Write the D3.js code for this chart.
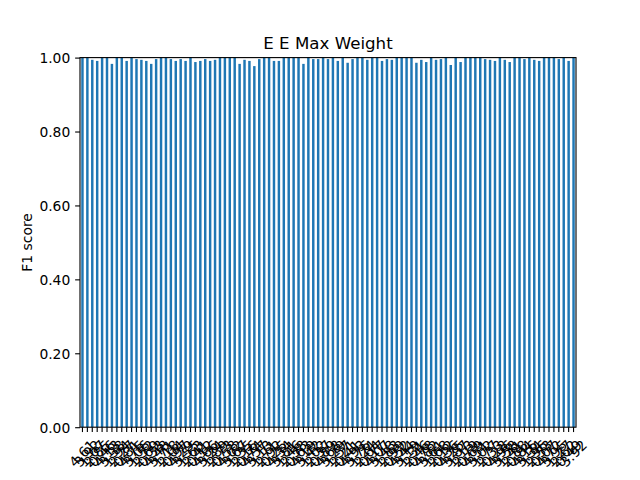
<!DOCTYPE html>
<html>
<head>
<meta charset="utf-8">
<script src="https://cdn.jsdelivr.net/npm/d3@7"></script>
<style>
  html, body { margin: 0; padding: 0; background: #fff; }
  svg { display: block; font-family: "DejaVu Sans", sans-serif; }
</style>
</head>
<body>
<svg id="chart" width="640" height="480"></svg>
<script>
const chartTitle = "E E Max Weight";
const yLabel = "F1 score";
const categories = [
  "4.61","3.92","1.07","2.85","0.46","4.13","3.38","1.94","2.27","0.81",
  "4.75","3.06","1.52","2.69","0.33","4.48","3.71","1.18","2.04","0.97",
  "4.29","3.55","1.63","2.41","0.12","4.86","3.24","1.89","2.73","0.58",
  "4.02","3.67","1.35","2.16","0.74","4.57","3.13","1.71","2.92","0.25",
  "4.34","3.81","1.46","2.58","0.63","4.19","3.42","1.02","2.37","0.89",
  "4.68","3.29","1.57","2.21","0.41","4.93","3.76","1.24","2.64","0.17",
  "4.07","3.48","1.83","2.99","0.52","4.44","3.19","1.31","2.46","0.78",
  "4.82","3.61","1.68","2.12","0.36","4.25","3.87","1.13","2.79","0.69",
  "4.51","3.02","1.77","2.33","0.28","4.96","3.58","1.41","2.88","0.84",
  "4.16","3.34","1.96","2.53","0.07","4.72","3.95","1.27","2.62","0.49","3.92"
];
const f1Scores = [
  1.000,1.000,0.994,0.991,1.000,1.000,0.983,1.000,1.000,0.991,
  1.000,0.996,0.994,0.991,0.983,0.996,1.000,1.000,0.996,0.991,
  0.996,0.991,1.000,0.988,0.991,0.996,0.991,0.994,1.000,1.000,
  1.000,1.000,0.983,0.994,0.991,0.977,0.996,1.000,1.000,0.991,
  0.991,1.000,1.000,1.000,1.000,0.983,1.000,0.996,0.996,1.000,
  0.996,1.000,0.991,1.000,0.986,0.996,1.000,1.000,0.994,1.000,
  1.000,0.991,0.996,0.994,1.000,1.000,1.000,1.000,0.986,0.994,
  0.988,1.000,0.994,0.996,1.000,0.980,1.000,0.988,1.000,1.000,
  1.000,1.000,0.996,0.994,0.991,1.000,0.994,0.988,1.000,1.000,
  0.996,1.000,0.994,0.991,1.000,1.000,1.000,0.996,1.000,0.991,1.000
];
const yTicks = [0, 0.2, 0.4, 0.6, 0.8, 1.0];

const pt = 100 / 72;
const L = 80, R = 576, T = 57.6, B = 427.2;
const fs = 10 * pt;
const tickLen = 3.5 * pt, tickPad = 3.5 * pt;

const svg = d3.select("#chart");

const x = d3.scaleBand()
  .domain(d3.range(categories.length))
  .range([L, R])
  .paddingInner(0.5)
  .paddingOuter(0.25);
const y = d3.scaleLinear().domain([0, 1]).range([B, T]);

// bars
svg.append("g").selectAll("rect")
  .data(f1Scores)
  .join("rect")
  .attr("x", (d, i) => x(i))
  .attr("width", x.bandwidth())
  .attr("y", d => y(d))
  .attr("height", d => y(0) - y(d))
  .attr("fill", "#1f77b4");

// y axis
const yAxis = svg.append("g")
  .attr("transform", `translate(${L},0)`)
  .call(d3.axisLeft(y).tickValues(yTicks).tickFormat(d3.format(".2f"))
    .tickSize(tickLen).tickPadding(tickPad));
yAxis.select(".domain").remove();
yAxis.selectAll("line").attr("stroke", "#000").attr("stroke-width", 0.8 * pt);
yAxis.selectAll("text").attr("font-size", fs).attr("fill", "#000")
  .attr("font-family", "DejaVu Sans").attr("dy", "0.35em");

// x axis
const xAxis = svg.append("g")
  .attr("transform", `translate(0,${B})`)
  .call(d3.axisBottom(x).tickFormat(i => categories[i])
    .tickSize(tickLen).tickPadding(tickPad));
xAxis.select(".domain").remove();
xAxis.selectAll("line").attr("stroke", "#000").attr("stroke-width", 0.8 * pt);
const lineH = fs * 1.164;
xAxis.selectAll("text")
  .attr("font-size", fs).attr("fill", "#000")
  .attr("font-family", "DejaVu Sans")
  .attr("text-anchor", "middle")
  .attr("y", 0).attr("dy", "0.35em")
  .each(function() {
    const len = this.getComputedTextLength();
    const H = (len + lineH) * Math.SQRT1_2;
    d3.select(this).attr("transform",
      `translate(0,${tickLen + tickPad + H / 2}) rotate(-45)`);
  });

// spines
svg.append("rect")
  .attr("x", L).attr("y", T).attr("width", R - L).attr("height", B - T)
  .attr("fill", "none").attr("stroke", "#000").attr("stroke-width", 0.8 * pt);

// title
svg.append("text")
  .attr("x", (L + R) / 2).attr("y", T - 6 * pt)
  .attr("text-anchor", "middle")
  .attr("font-size", 12 * pt)
  .attr("fill", "#000")
  .text(chartTitle);

// y label
svg.append("text")
  .attr("transform", `translate(32,${(T + B) / 2}) rotate(-90)`)
  .attr("text-anchor", "middle")
  .attr("font-size", fs)
  .attr("fill", "#000")
  .text(yLabel);
</script>
</body>
</html>
